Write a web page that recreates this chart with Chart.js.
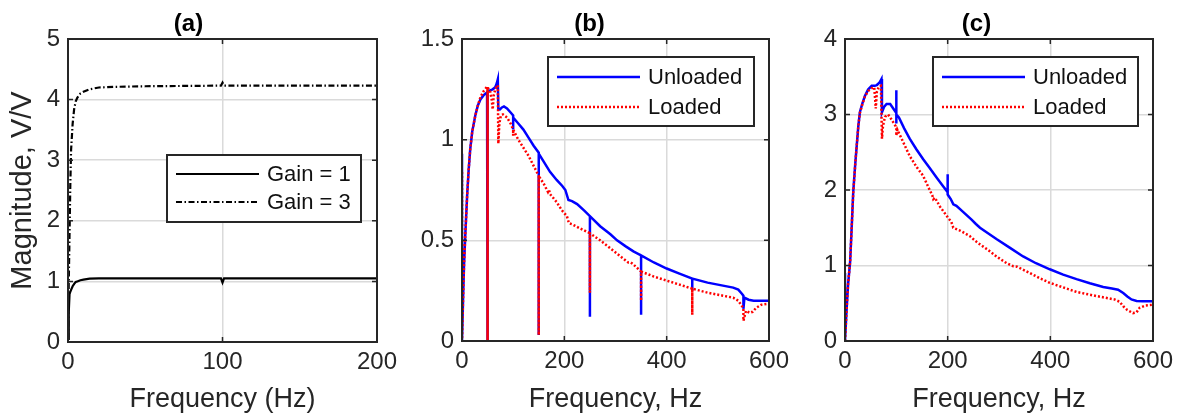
<!DOCTYPE html>
<html>
<head>
<meta charset="utf-8">
<script src="https://cdn.jsdelivr.net/npm/chart.js@4"></script>
<style>
  html, body { margin: 0; padding: 0; background: #fff; }
  #wrap { position: relative; width: 1191px; height: 419px; overflow: hidden; }
  canvas { position: absolute; top: 0; }
</style>
</head>
<body>
<div id="wrap">
  <canvas id="chartA" width="410" height="419" style="left:0"></canvas>
  <canvas id="chartB" width="390" height="419" style="left:410px"></canvas>
  <canvas id="chartC" width="391" height="419" style="left:800px"></canvas>
</div>
<script>
// ---- panel (a): gain comparison ----
const freqA = [0, 0.5, 1, 1.5, 2, 3, 4, 5, 6, 8, 10, 14, 20, 30, 50, 99, 100, 101, 150, 200];
const gain1 = [0.05, 0.5, 0.79, 0.83, 0.86, 0.92, 0.96, 0.99, 1.0, 1.02, 1.03, 1.045, 1.05, 1.05, 1.05, 1.05, 0.98, 1.05, 1.05, 1.05];
const gain3 = [0.05, 1.0, 1.8, 2.6, 3.17, 3.6, 3.85, 3.97, 4.03, 4.1, 4.13, 4.17, 4.2, 4.21, 4.22, 4.23, 4.28, 4.23, 4.23, 4.23];

// ---- panel (b) ----
const freqBU = [0, 0, 2, 4, 6.5, 10, 13, 16, 20, 26, 31, 36, 42, 49, 50, 50, 50, 55, 60, 65, 68, 70, 71, 74, 78, 82, 88, 95,
  100, 100, 100, 110, 120, 130, 140, 150, 150, 150, 160, 172, 185, 196, 202, 208, 215, 225, 240,
  250, 250, 250, 270, 290, 303, 320, 335, 350, 350, 350, 375, 400, 425, 450, 450, 450,
  480, 510, 530, 540, 547, 550, 550, 552, 560, 570, 600];
const magBU = [0.93, 0, 0.2, 0.38, 0.53, 0.72, 0.85, 0.95, 1.04, 1.12, 1.17, 1.2, 1.22, 1.235, 1.24, 0, 1.24, 1.245, 1.25, 1.26, 1.28, 1.3, 1.15, 1.15, 1.16, 1.165, 1.155, 1.135,
  1.12, 1.05, 1.11, 1.08, 1.05, 1.01, 0.97, 0.935, 0.03, 0.93, 0.89, 0.84, 0.8, 0.77, 0.75, 0.7, 0.695, 0.68, 0.645,
  0.62, 0.12, 0.62, 0.57, 0.53, 0.5, 0.47, 0.445, 0.425, 0.13, 0.425, 0.39, 0.36, 0.335, 0.31, 0.25, 0.31,
  0.29, 0.275, 0.265, 0.255, 0.235, 0.225, 0.16, 0.215, 0.205, 0.2, 0.2];
const freqBL = [0, 0, 2, 4, 6.5, 10, 13, 16, 20, 26, 31, 36, 42, 48, 50, 50, 50, 55, 58, 60, 62, 65, 68, 70, 71, 73, 76, 80, 88, 95,
  100, 100, 100, 110, 120, 130, 140, 150, 150, 150, 160, 165, 168, 170, 172, 185, 195, 205, 209, 215, 230,
  250, 250, 250, 270, 290, 310, 325, 330, 335, 350, 350, 350, 375, 400, 425, 450, 450, 450,
  480, 510, 530, 540, 548, 550, 550, 555, 562, 568, 575, 585, 600];
const magBL = [0.84, 0, 0.2, 0.38, 0.53, 0.72, 0.85, 0.95, 1.04, 1.12, 1.17, 1.21, 1.24, 1.26, 1.265, 0, 1.26, 1.24, 1.2, 1.15, 1.22, 1.25, 1.265, 1.27, 0.98, 1.08, 1.12, 1.125, 1.11, 1.08,
  1.05, 1.02, 1.05, 1.0, 0.96, 0.92, 0.87, 0.82, 0.03, 0.82, 0.78, 0.755, 0.74, 0.75, 0.73, 0.69, 0.65, 0.62, 0.585, 0.58, 0.56,
  0.535, 0.24, 0.535, 0.5, 0.46, 0.42, 0.39, 0.39, 0.38, 0.345, 0.2, 0.345, 0.32, 0.3, 0.28, 0.26, 0.13, 0.26,
  0.24, 0.225, 0.215, 0.2, 0.17, 0.16, 0.1, 0.15, 0.14, 0.145, 0.165, 0.18, 0.185];

// ---- panel (c) ----
const freqCU = [0, 0, 3, 6, 10, 13, 16, 20, 23, 26, 29, 34, 39, 45, 52, 58, 62, 67, 71, 72, 76, 81, 88, 95,
  100, 100, 100, 100, 105, 115, 126, 139, 152, 165, 178, 190, 200, 200, 200, 206, 211, 217, 230, 246, 255, 263, 280, 295,
  320, 347, 372, 399, 425, 451, 477, 503, 520, 532, 542, 550, 558, 568, 580, 600];
const magCU = [0.9, 0, 0.4, 0.75, 1.05, 1.5, 1.97, 2.35, 2.6, 2.85, 3.03, 3.15, 3.25, 3.33, 3.38, 3.38, 3.39, 3.42, 3.47, 3.03, 3.1, 3.14, 3.14, 3.07,
  3.02, 3.32, 2.88, 3.0, 2.96, 2.82, 2.68, 2.54, 2.41, 2.29, 2.17, 2.06, 1.97, 2.21, 1.94, 1.88, 1.81, 1.79, 1.71, 1.61, 1.55, 1.5, 1.42, 1.35,
  1.24, 1.12, 1.03, 0.95, 0.88, 0.82, 0.765, 0.715, 0.695, 0.68, 0.635, 0.59, 0.55, 0.53, 0.525, 0.525];
const freqCL = [0, 3, 6, 10, 13, 16, 20, 23, 26, 29, 34, 39, 45, 52, 57, 60, 62, 66, 70, 72, 74, 78, 84, 90,
  100, 100, 102, 115, 126, 140, 152, 165, 170, 172, 175, 185, 201, 207, 211, 225, 243, 255, 263, 280, 295,
  315, 328, 335, 360, 380, 399, 425, 451, 490, 525, 535, 542, 550, 561, 568, 574, 585, 600];
const magCL = [0, 0.4, 0.75, 1.05, 1.5, 1.95, 2.35, 2.6, 2.85, 3.02, 3.14, 3.24, 3.31, 3.35, 3.36, 3.08, 3.3, 3.37, 3.38, 2.68, 2.85, 2.97, 3.0, 2.94,
  2.83, 2.72, 2.8, 2.61, 2.45, 2.3, 2.19, 2.0, 1.93, 1.88, 1.9, 1.78, 1.63, 1.58, 1.5, 1.46, 1.39, 1.32, 1.28, 1.2, 1.12,
  1.03, 0.99, 0.985, 0.9, 0.83, 0.77, 0.71, 0.65, 0.595, 0.55, 0.52, 0.46, 0.41, 0.37, 0.38, 0.44, 0.47, 0.48];

const FONT = "'Liberation Sans', Arial, Helvetica, sans-serif";
const TXT = "#262626";

function pts(xs, ys) {
  return xs.map((x, i) => ({ x: x, y: ys[i] }));
}

// MATLAB-like box, inward ticks and legend drawn over the plot
const framePlugin = {
  id: "frame",
  afterDraw(chart, args, opts) {
    const ctx = chart.ctx;
    const a = chart.chartArea;
    const sx = chart.scales.x, sy = chart.scales.y;
    ctx.save();
    ctx.strokeStyle = TXT;
    ctx.lineWidth = 1.5;
    ctx.beginPath();
    sx.ticks.forEach(t => {
      const px = sx.getPixelForValue(t.value);
      ctx.moveTo(px, a.bottom); ctx.lineTo(px, a.bottom - 5);
      ctx.moveTo(px, a.top); ctx.lineTo(px, a.top + 5);
    });
    sy.ticks.forEach(t => {
      const py = sy.getPixelForValue(t.value);
      ctx.moveTo(a.left, py); ctx.lineTo(a.left + 5, py);
      ctx.moveTo(a.right, py); ctx.lineTo(a.right - 5, py);
    });
    ctx.stroke();
    ctx.lineWidth = 2;
    ctx.strokeRect(a.left, a.top, a.right - a.left, a.bottom - a.top);

    const lg = opts.legend;
    if (lg) {
      const bx = a.left + lg.x, by = a.top + lg.y;
      ctx.fillStyle = "#fff";
      ctx.fillRect(bx, by, lg.w, lg.h);
      ctx.strokeStyle = TXT;
      ctx.lineWidth = 2;
      ctx.strokeRect(bx, by, lg.w, lg.h);
      chart.data.datasets.forEach((ds, i) => {
        const y = by + lg.first + i * lg.rowH;
        ctx.beginPath();
        ctx.setLineDash(ds.borderDash || []);
        ctx.strokeStyle = ds.borderColor;
        ctx.lineWidth = ds.borderWidth;
        ctx.moveTo(bx + 9, y);
        ctx.lineTo(bx + 92, y);
        ctx.stroke();
        ctx.setLineDash([]);
        ctx.fillStyle = "#111";
        ctx.font = "22px " + FONT;
        ctx.textBaseline = "middle";
        ctx.textAlign = "left";
        ctx.fillText(ds.label, bx + 100, y + 1);
      });
    }
    ctx.restore();
  }
};

function makeChart(id, cfg) {
  return new Chart(document.getElementById(id).getContext("2d"), {
    type: "scatter",
    data: { datasets: cfg.datasets },
    options: {
      responsive: false,
      animation: false,
      layout: { padding: { left: 0, right: cfg.padRight, top: 0, bottom: 0 } },
      elements: { point: { radius: 0 }, line: { tension: 0 } },
      plugins: {
        legend: { display: false },
        tooltip: { enabled: false },
        title: {
          display: true,
          text: cfg.title,
          color: "#000",
          font: { family: FONT, size: 24, weight: "bold" },
          padding: { top: 10.2, bottom: 0 }
        },
        frame: { legend: cfg.legend }
      },
      scales: {
        x: {
          type: "linear",
          min: 0, max: cfg.xMax,
          ticks: { stepSize: cfg.xStep, color: TXT, font: { family: FONT, size: 24 }, padding: 6, maxRotation: 0 },
          grid: { color: "#dadada", lineWidth: 1.5, drawTicks: false },
          border: { display: false },
          title: { display: true, text: cfg.xTitle, color: TXT, font: { family: FONT, size: 27 }, padding: { top: 0, bottom: 3 } },
          afterFit(s) { s.height = cfg.xHeight; s.paddingLeft = 0; s.paddingRight = 0; }
        },
        y: {
          type: "linear",
          min: 0, max: cfg.yMax,
          ticks: {
            stepSize: cfg.yStep, color: TXT, font: { family: FONT, size: 24 }, padding: 8,
            callback: v => String(Math.round(v * 10) / 10)
          },
          grid: { color: "#dadada", lineWidth: 1.5, drawTicks: false },
          border: { display: false },
          title: { display: !!cfg.yTitle, text: cfg.yTitle || "", color: TXT, font: { family: FONT, size: 29 }, padding: { top: 6, bottom: 0 } },
          afterFit(s) { s.width = cfg.yWidth; s.paddingTop = 0; s.paddingBottom = 0; }
        }
      }
    },
    plugins: [framePlugin]
  });
}

makeChart("chartA", {
  title: "(a)", xMax: 200, xStep: 100, yMax: 5, yStep: 1,
  xTitle: "Frequency (Hz)", yTitle: "Magnitude, V/V",
  padRight: 33, yWidth: 68, xHeight: 77,
  legend: { x: 99, y: 116, w: 194, h: 67, first: 19, rowH: 28 },
  datasets: [
    { label: "Gain = 1", data: pts(freqA, gain1), showLine: true, borderColor: "#000", borderWidth: 2.2 },
    { label: "Gain = 3", data: pts(freqA, gain3), showLine: true, borderColor: "#000", borderWidth: 2.2, borderDash: [6, 2.5, 1.5, 2.5] }
  ]
});

makeChart("chartB", {
  title: "(b)", xMax: 600, xStep: 200, yMax: 1.5, yStep: 0.5,
  xTitle: "Frequency, Hz",
  padRight: 31, yWidth: 52, xHeight: 78,
  legend: { x: 86, y: 18, w: 206, h: 69, first: 20, rowH: 30 },
  datasets: [
    { label: "Unloaded", data: pts(freqBU, magBU), showLine: true, borderColor: "#0000ff", borderWidth: 2.5, order: 2 },
    { label: "Loaded", data: pts(freqBL, magBL), showLine: true, borderColor: "#ff0000", borderWidth: 2.5, borderDash: [2, 2], order: 1 }
  ]
});

makeChart("chartC", {
  title: "(c)", xMax: 600, xStep: 200, yMax: 4, yStep: 1,
  xTitle: "Frequency, Hz",
  padRight: 38, yWidth: 45, xHeight: 78,
  legend: { x: 88, y: 18, w: 205, h: 69, first: 20, rowH: 30 },
  datasets: [
    { label: "Unloaded", data: pts(freqCU, magCU), showLine: true, borderColor: "#0000ff", borderWidth: 2.5, order: 2 },
    { label: "Loaded", data: pts(freqCL, magCL), showLine: true, borderColor: "#ff0000", borderWidth: 2.5, borderDash: [2, 2], order: 1 }
  ]
});
</script>
</body>
</html>
